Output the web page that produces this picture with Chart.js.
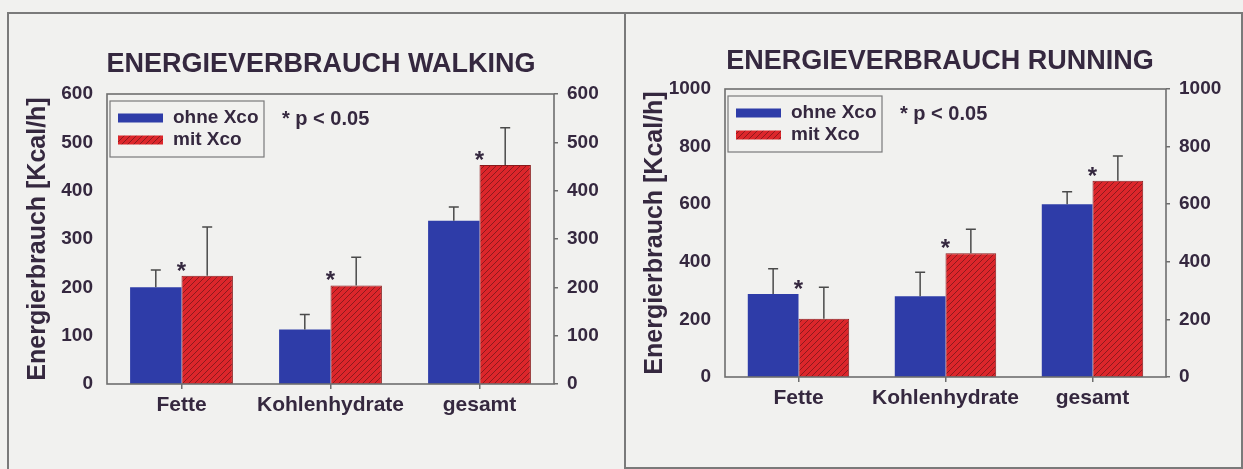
<!DOCTYPE html>
<html>
<head>
<meta charset="utf-8">
<script src="https://cdn.jsdelivr.net/npm/chart.js@4.4.0/dist/chart.umd.min.js"></script>
<style>
html, body { margin: 0; padding: 0; background: #f1f1ef; width: 1243px; height: 469px; overflow: hidden; }
.frame { position: absolute; border: 0 solid #7a7a7a; }
#boxL { left: 7px; top: 12px; width: 615px; height: 460px; border-width: 2px 0 0 2px; }
#boxR { left: 624px; top: 12px; width: 615px; height: 453px; border-width: 2px; }
.wrap { position: absolute; top: 0; }
#wrapL { left: 20px; }
#wrapR { left: 636px; }
</style>
</head>
<body>
<div class="frame" id="boxL"></div>
<div class="frame" id="boxR"></div>
<div class="wrap" id="wrapL"><canvas id="walk" width="602" height="469"></canvas></div>
<div class="wrap" id="wrapR"><canvas id="run" width="608" height="469"></canvas></div>
<script>
"use strict";

// categories + series
var categories = ["Fette", "Kohlenhydrate", "gesamt"];
var seriesNames = ["ohne Xco", "mit Xco"];
var yTitle = "Energierbrauch [Kcal/h]";
var signifLabel = "* p < 0.05";

// walking (mean, + SD)
var walkTitle = "ENERGIEVERBRAUCH WALKING";
var walkOhne = [200, 113, 338];
var walkOhneSD = [36, 31, 28];
var walkMit = [224, 204, 453];
var walkMitSD = [101, 58, 77];
var walkTicks = [0, 100, 200, 300, 400, 500, 600];

// running (mean, + SD)
var runTitle = "ENERGIEVERBRAUCH RUNNING";
var runOhne = [288, 280, 600];
var runOhneSD = [88, 84, 43];
var runMit = [202, 430, 681];
var runMitSD = [110, 83, 86];
var runTicks = [0, 200, 400, 600, 800, 1000];

var FONT = "'Liberation Sans', Arial, sans-serif";
var TEXT = "#35283f";
var LINE = "#6e6e6e";
var BLUE = "#2e3ca8";

var makeHatch = function(ctx) {
    var c = document.createElement("canvas");
    c.width = 6; c.height = 6;
    var g = c.getContext("2d");
    g.fillStyle = "#dc262b";
    g.fillRect(0, 0, 6, 6);
    g.strokeStyle = "#8c1a1d";
    g.lineWidth = 1;
    g.beginPath();
    g.moveTo(0, 6); g.lineTo(6, 0);
    g.moveTo(-3, 3); g.lineTo(3, -3);
    g.moveTo(3, 9); g.lineTo(9, 3);
    g.stroke();
    return ctx.createPattern(c, "repeat");
};

// frame, error bars, asterisks, legend box
var decor = {
    id: "decor",
    afterDatasetsDraw: function(chart) {
        var ctx = chart.ctx;
        var area = chart.chartArea;
        var y = chart.scales.y;
        var x = chart.scales.x;
        var sets = chart.data.datasets;

        ctx.save();
        ctx.strokeStyle = "#4a4a4a";
        ctx.lineWidth = 1.5;
        sets.forEach(function(ds, di) {
            var meta = chart.getDatasetMeta(di);
            meta.data.forEach(function(bar, i) {
                var top = y.getPixelForValue(ds.data[i] + ds.sd[i]);
                ctx.beginPath();
                ctx.moveTo(bar.x, bar.y);
                ctx.lineTo(bar.x, top);
                ctx.moveTo(bar.x - 5, top);
                ctx.lineTo(bar.x + 5, top);
                ctx.stroke();
            });
        });

        // significance stars
        ctx.fillStyle = TEXT;
        ctx.font = "bold 24px " + FONT;
        ctx.textAlign = "center";
        ctx.textBaseline = "alphabetic";
        categories.forEach(function(c, i) {
            var hi = Math.max(sets[0].data[i], sets[1].data[i]);
            var cy = y.getPixelForValue(hi) - 11;
            ctx.fillText("*", x.getPixelForValue(i), cy + 14);
        });

        // plot frame
        ctx.strokeStyle = LINE;
        ctx.lineWidth = 1.6;
        ctx.strokeRect(area.left, area.top, area.right - area.left, area.bottom - area.top);

        // legend
        var bx = area.left + 3, by = area.top + 7;
        ctx.lineWidth = 1.2;
        ctx.strokeStyle = "#7a7a7a";
        ctx.strokeRect(bx, by, 154, 56);
        ctx.font = "bold 19px " + FONT;
        ctx.textAlign = "left";
        ctx.textBaseline = "middle";
        sets.forEach(function(ds, di) {
            var ry = by + 17 + di * 22;
            ctx.fillStyle = ds.backgroundColor;
            ctx.fillRect(bx + 8, ry - 4.5, 45, 9);
            ctx.fillStyle = TEXT;
            ctx.fillText(ds.label, bx + 63, ry);
        });
        ctx.font = "bold 20px " + FONT;
        ctx.fillText(signifLabel, bx + 172, by + 18);
        ctx.restore();
    }
};

var createChart = function(id, title, ohne, ohneSD, mit, mitSD, ticks, lay) {
    var ctx = document.getElementById(id).getContext("2d");
    var tickFont = { family: FONT, size: 19, weight: "bold" };
    var yMin = ticks[0];
    var yMax = ticks[ticks.length - 1];
    var step = ticks[1] - ticks[0];
    var plain = function(v) { return String(v); };

    return new Chart(ctx, {
        type: "bar",
        data: {
            labels: categories,
            datasets: [{
                label: seriesNames[0],
                data: ohne,
                sd: ohneSD,
                backgroundColor: BLUE,
                borderWidth: 0
            }, {
                label: seriesNames[1],
                data: mit,
                sd: mitSD,
                backgroundColor: makeHatch(ctx),
                borderColor: "#8a1a1c",
                borderWidth: 1
            }]
        },
        options: {
            responsive: false,
            animation: false,
            devicePixelRatio: 1,
            layout: { padding: 0 },
            datasets: { bar: { categoryPercentage: 0.69, barPercentage: 1 } },
            plugins: {
                legend: { display: false },
                tooltip: { enabled: false },
                title: {
                    display: true,
                    text: title,
                    color: TEXT,
                    font: { family: FONT, size: 27, weight: "bold", lineHeight: 1.2 },
                    padding: { top: lay.titleTop, bottom: lay.titleBottom }
                }
            },
            scales: {
                x: {
                    offset: true,
                    grid: { display: true, drawOnChartArea: false, offset: false, tickLength: 5, color: LINE, lineWidth: 1.5 },
                    border: { display: false },
                    ticks: { color: TEXT, font: { family: FONT, size: 21, weight: "bold" }, padding: 4, maxRotation: 0, autoSkip: false },
                    afterFit: function(s) { s.height = lay.xH; }
                },
                y: {
                    position: "left",
                    min: yMin, max: yMax,
                    ticks: { stepSize: step, color: TEXT, font: tickFont, padding: 14, callback: plain },
                    grid: { display: false, drawTicks: false },
                    border: { display: false },
                    title: {
                        display: true,
                        text: yTitle,
                        color: TEXT,
                        font: { family: FONT, size: 25, weight: "bold", lineHeight: 1.2 },
                        padding: { top: lay.yTitlePad, bottom: 0 }
                    },
                    afterFit: function(s) { s.width = lay.yL; }
                },
                y2: {
                    position: "right",
                    min: yMin, max: yMax,
                    ticks: { stepSize: step, color: TEXT, font: tickFont, padding: 9, callback: plain },
                    grid: { display: true, drawOnChartArea: false, tickLength: 4, color: LINE, lineWidth: 1.5 },
                    border: { display: false },
                    afterFit: function(s) { s.width = lay.yR; }
                }
            }
        },
        plugins: [decor]
    });
};

createChart("walk", walkTitle, walkOhne, walkOhneSD, walkMit, walkMitSD, walkTicks,
    { titleTop: 48, titleBottom: 13.6, xH: 85, yL: 87, yR: 68, yTitlePad: 3 });
createChart("run", runTitle, runOhne, runOhneSD, runMit, runMitSD, runTicks,
    { titleTop: 45, titleBottom: 11.6, xH: 92, yL: 89, yR: 78, yTitlePad: 4 });
</script>
</body>
</html>
